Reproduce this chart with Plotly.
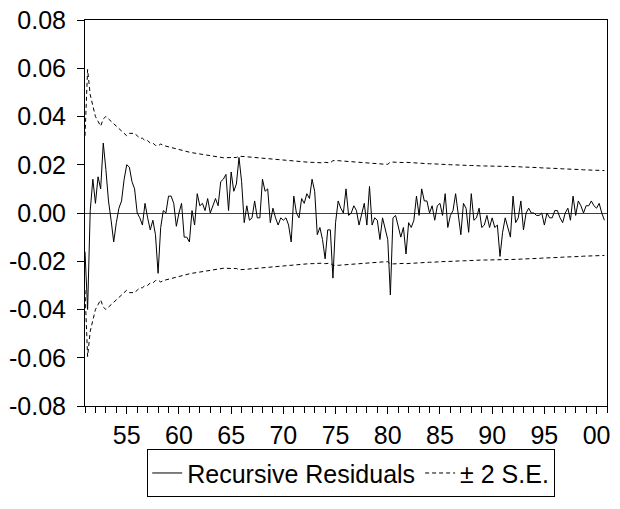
import plotly.graph_objects as go

start_year = 1951
resid = [
    -0.016, -0.040, 0.001, 0.014, 0.004, 0.015, 0.010, 0.029, 0.018, 0.005,
    -0.003, -0.012, -0.004, 0.002, 0.005, 0.014, 0.020, 0.019, 0.013, 0.010,
    0.000, -0.002, -0.005, 0.004, -0.002, -0.007, -0.003, -0.009, -0.025, -0.006,
    0.001, 0.000, 0.007, 0.007, 0.004, -0.0055, 0.000, 0.004, -0.010, -0.010,
    -0.012, 0.001, -0.005, 0.008, 0.003, 0.004, 0.001, 0.006, 0.000, 0.003,
    0.006, 0.003, 0.013, 0.014, 0.016, 0.001, 0.017, 0.009, 0.012, 0.023,
    0.013, -0.004, 0.003, -0.003, -0.002, 0.005, -0.002, -0.002, 0.014, 0.009,
    0.010, -0.004, 0.002, -0.002, -0.005, -0.002, -0.003, -0.002, -0.005, -0.012,
    0.007, 0.000, -0.002, 0.006, 0.004, 0.008, 0.006, 0.014, 0.009, -0.009,
    -0.006, -0.011, -0.019, -0.007, -0.007, -0.027, -0.004, 0.005, 0.002, 0.000,
    0.010, -0.001, 0.000, 0.003, 0.001, -0.005, 0.000, 0.004, -0.005, 0.011,
    -0.005, -0.002, -0.003, -0.011, -0.002, -0.006, -0.011, -0.034, -0.002, -0.001,
    -0.005, -0.010, -0.006, -0.017, -0.004, -0.006, -0.003, 0.007, -0.001, 0.010,
    0.005, 0.005, 0.000, 0.003, -0.003, 0.003, 0.004, -0.001, 0.008, -0.006,
    -0.001, 0.001, 0.008, -0.001, -0.009, 0.004, 0.002, -0.008, 0.008, -0.003,
    -0.002, 0.002, -0.006, -0.005, -0.001, -0.006, -0.002, -0.006, -0.005, -0.018,
    -0.008, -0.002, -0.006, -0.010, 0.007, -0.004, -0.002, 0.005, -0.007, 0.000,
    0.002, 0.000, 0.000, -0.001, -0.001, 0.000, -0.005, 0.000, -0.002, -0.002,
    0.001, 0.001, -0.002, -0.004, 0.000, 0.002, -0.003, 0.007, -0.001, 0.005,
    0.003, 0.000, 0.003, 0.003, 0.005, 0.003, 0.002, 0.004, 0.000, -0.003,
]
two_se = [
    0.032, 0.0595, 0.049, 0.044, 0.040, 0.038, 0.036, 0.039, 0.040, 0.039,
    0.038, 0.037, 0.036, 0.035, 0.034, 0.033, 0.032, 0.033, 0.033, 0.033,
    0.032, 0.031, 0.031, 0.030, 0.030, 0.029, 0.029, 0.028, 0.0278, 0.0286,
    0.028, 0.0277, 0.0273, 0.027, 0.0268, 0.0265, 0.0262, 0.026, 0.0257, 0.0254,
    0.0252, 0.025, 0.0248, 0.0246, 0.0244, 0.0242, 0.024, 0.0238, 0.0236, 0.0234,
    0.0232, 0.0231, 0.023, 0.0229, 0.0229, 0.0228, 0.023, 0.023, 0.023, 0.0235,
    0.0236, 0.0234, 0.0233, 0.0232, 0.0231, 0.0229, 0.0228, 0.0226, 0.0226, 0.0225,
    0.0224, 0.0222, 0.0221, 0.022, 0.0219, 0.0218, 0.0217, 0.0216, 0.0215, 0.0214,
    0.0214, 0.0213, 0.0212, 0.0211, 0.0211, 0.021, 0.021, 0.021, 0.0209, 0.0209,
    0.0209, 0.0208, 0.021, 0.0209, 0.0208, 0.0217, 0.0218, 0.0217, 0.0216, 0.0215,
    0.0215, 0.0214, 0.0213, 0.0212, 0.0211, 0.021, 0.0209, 0.0208, 0.0207, 0.0207,
    0.0206, 0.0205, 0.0204, 0.0204, 0.0203, 0.0202, 0.0202, 0.0211, 0.0211, 0.021,
    0.021, 0.0209, 0.0209, 0.021, 0.0209, 0.0208, 0.0207, 0.0207, 0.0206, 0.0206,
    0.0205, 0.0205, 0.0204, 0.0204, 0.0203, 0.0203, 0.0202, 0.0202, 0.0201, 0.0201,
    0.02, 0.02, 0.0199, 0.0199, 0.0198, 0.0198, 0.0198, 0.0197, 0.0197, 0.0196,
    0.0196, 0.0196, 0.0195, 0.0195, 0.0195, 0.0194, 0.0194, 0.0194, 0.0193, 0.0195,
    0.0195, 0.0194, 0.0194, 0.0193, 0.0193, 0.0192, 0.0192, 0.0191, 0.0191, 0.019,
    0.019, 0.0189, 0.0189, 0.0188, 0.0188, 0.0187, 0.0187, 0.0186, 0.0186, 0.0185,
    0.0185, 0.0184, 0.0184, 0.0183, 0.0183, 0.0182, 0.0182, 0.0181, 0.0181, 0.018,
    0.018, 0.0179, 0.0179, 0.0178, 0.0178, 0.0177, 0.0177, 0.0177, 0.0176, 0.0176,
]
x_tick_vals = [1955, 1960, 1965, 1970, 1975, 1980, 1985, 1990, 1995, 2000]
x_tick_text = ["55", "60", "65", "70", "75", "80", "85", "90", "95", "00"]
y_tick_vals = [0.08, 0.06, 0.04, 0.02, 0.0, -0.02, -0.04, -0.06, -0.08]
y_tick_text = ["0.08", "0.06", "0.04", "0.02", "0.00", "-0.02", "-0.04", "-0.06", "-0.08"]

xq = [start_year + i / 4 for i in range(len(resid))]
lower = [-v for v in two_se]

FONT = "Liberation Sans, Arial, sans-serif"
fig = go.Figure()
fig.add_trace(go.Scatter(x=xq, y=resid, mode="lines", name="Recursive Residuals",
                         line=dict(color="black", width=1)))
fig.add_trace(go.Scatter(x=xq, y=two_se, mode="lines", name="± 2 S.E.",
                         line=dict(color="black", width=1, dash="4px,3px"), legendgroup="se"))
fig.add_trace(go.Scatter(x=xq, y=lower, mode="lines", name="± 2 S.E.", showlegend=False,
                         line=dict(color="black", width=1, dash="4px,3px"), legendgroup="se"))

fig.update_layout(
    width=620, height=509,
    margin=dict(l=85, r=13, t=20, b=98),
    paper_bgcolor="white", plot_bgcolor="white",
    font=dict(family=FONT, size=25, color="black"),
    showlegend=True,
    legend=dict(orientation="h", x=0.51, xanchor="center", y=-0.112, yanchor="top",
                bordercolor="black", borderwidth=1, font=dict(size=25),
                itemwidth=30, tracegroupgap=0),
    xaxis=dict(range=[1951, 2001], tickvals=x_tick_vals, ticktext=x_tick_text,
               automargin=False,
               showgrid=False, zeroline=False, showline=True, linecolor="black",
               linewidth=1, mirror=True, ticks="outside", ticklen=7, tickcolor="black",
               minor=dict(dtick=1, tick0=1951, ticks="outside", ticklen=6, tickcolor="black",
                          showgrid=False)),
    yaxis=dict(range=[-0.08, 0.08], tickvals=y_tick_vals, ticktext=y_tick_text,
               automargin=False, ticklabelstandoff=6,
               showgrid=False, zeroline=True, zerolinecolor="#404040", zerolinewidth=1,
               showline=True, linecolor="black", linewidth=1, mirror=True,
               ticks="outside", ticklen=7, tickcolor="black"),
)
fig.write_html(
    "out.html",
    config={"displayModeBar": False},
    post_script="document.body.style.margin='0';document.documentElement.style.overflow='hidden';",
)
